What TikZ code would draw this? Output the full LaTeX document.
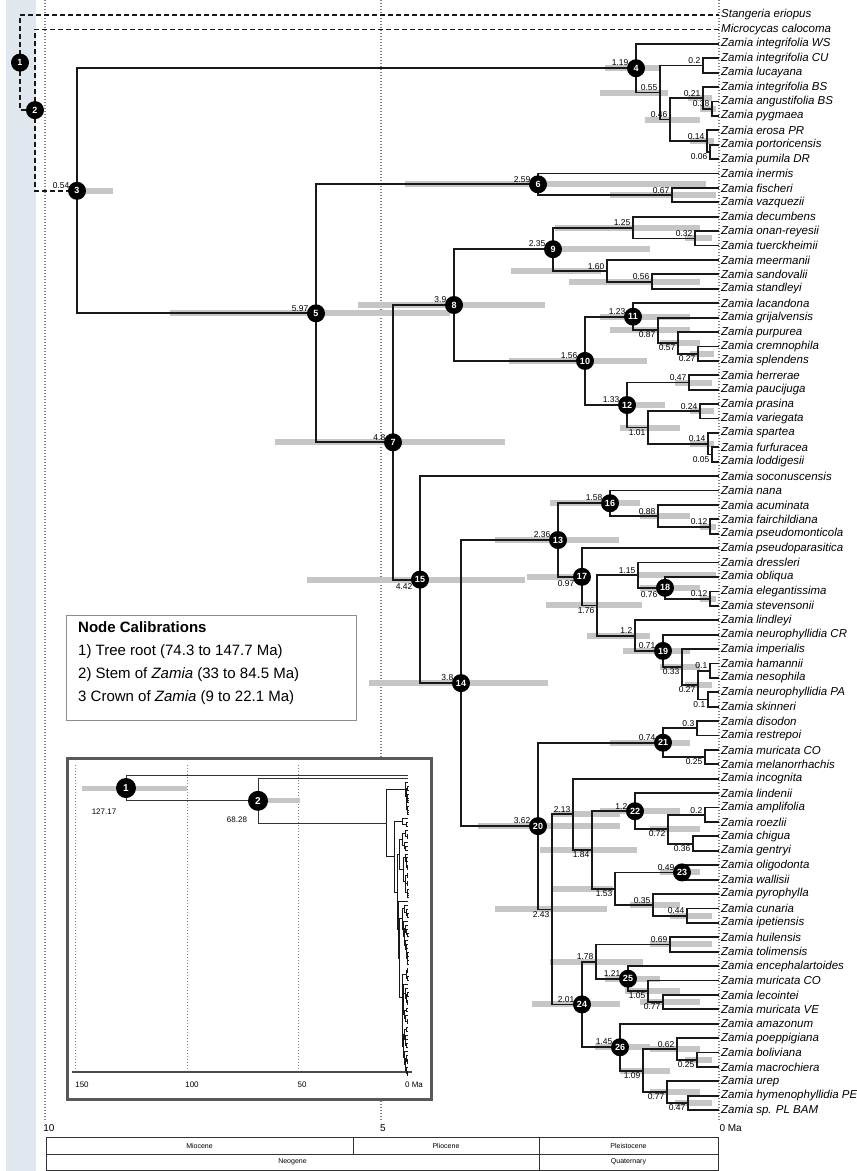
\documentclass[tikz,border=0pt]{standalone}
\usepackage{fontspec}
\setmainfont{Liberation Sans}
\usetikzlibrary{calc}
\definecolor{strip}{RGB}{224,231,238}
\definecolor{hpd}{RGB}{198,198,198}
\definecolor{treec}{RGB}{25,25,25}
\newcommand\ZTree[1]{%
  \foreach \i in {3,...,77}{\coordinate (#1t\i) at (719,{15+(\i-1)*14.41});}
  \foreach \q/\a/\b in {B/703/65.4, Eap/712/108.7, E/703/97.9, G/710/151.9, F/707/141.1, C/670/119.5, A/660/92.5, N4/636/68.2,
    H/672/195.1, N6/538/184.3, K/695/238.4, I/633/227.6, L/652/281.6, J/607/270.8, N9/553/249.2,
    O/698/353.6, Nn/678/342.8, M/658/330.2, N11/633/316.7, P/689/382.5, R/700/411.3, T/712/454.5, S/708/443.7,
    Q/648/427.5, N12/627/405.0, N10/585/360.9, N8/454/305.0,
    V/710/526.6, U/658/515.8, N16/610/503.2, Z/710/598.6, N18/665/587.8, X/638/575.2,
    CC/710/670.7, DD/708/699.5, BB/698/685.1, EE/682/667.1, N19/663/650.9, Y/635/635.6, W/597/605.4, N17/582/576.8, N13/558/540.0,
    II/697/728.3, JJ/705/757.1, N21/663/742.7, OO/705/814.8, PP/693/843.6, NN/668/829.2, N22/635/811.2, N23/682/872.4,
    RR/687/915.6, QQ/653/904.8, MM/615/888.6, LL/592/849.9, KK/573/814.3,
    TT/670/944.4, VV/663/1002.1, UU/648/991.3, N25/628/978.7, SS/596/961.6,
    ZZ/697/1059.7, XX/677/1048.9, AB/688/1103.0, YY/667/1092.2, WW/643/1070.6, N26/620/1047.2, N24/582/1004.4,
    HH/552/909.4, N20/538/826.1, N14/461/683.1, N15/420/579.6, N7/393/442.3, N5/316/313.3, N3/77/190.8}{\coordinate (#1\q) at (\a,\b);}
  \foreach \p/\c in {N4/t3, N4/A, A/B, A/C, B/t4, B/t5, C/E, C/F, E/t6, E/Eap, Eap/t7, Eap/t8, F/t9, F/G, G/t10, G/t11,
    N3/N4, N3/N5, N5/N6, N5/N7, N6/t12, N6/H, H/t13, H/t14,
    N7/N8, N7/N15, N8/N9, N8/N10, N9/I, N9/J, I/t15, I/K, K/t16, K/t17, J/t18, J/L, L/t19, L/t20,
    N10/N11, N10/N12, N11/t21, N11/M, M/t22, M/Nn, Nn/t23, Nn/O, O/t24, O/t25,
    N12/P, N12/Q, P/t26, P/t27, Q/R, Q/S, R/t28, R/t29, S/t30, S/T, T/t31, T/t32,
    N15/t33, N15/N14, N14/N13, N14/N20, N13/N16, N13/N17, N16/t34, N16/U, U/t35, U/V, V/t36, V/t37,
    N17/t38, N17/W, W/X, W/Y, X/t39, X/N18, N18/t40, N18/Z, Z/t41, Z/t42,
    Y/t43, Y/N19, N19/t44, N19/EE, EE/t45, EE/BB, BB/CC, BB/DD, CC/t46, CC/t47, DD/t48, DD/t49,
    N20/N21, N20/HH, N21/II, N21/JJ, II/t50, II/t51, JJ/t52, JJ/t53,
    HH/KK, HH/N24, KK/t54, KK/LL, LL/N22, LL/MM, N22/t55, N22/NN, NN/OO, NN/PP, OO/t56, OO/t57, PP/t58, PP/t59,
    MM/N23, MM/QQ, N23/t60, N23/t61, QQ/t62, QQ/RR, RR/t63, RR/t64,
    N24/SS, N24/N26, SS/TT, SS/N25, TT/t65, TT/t66, N25/t67, N25/UU, UU/t68, UU/VV, VV/t69, VV/t70,
    N26/t71, N26/WW, WW/XX, WW/YY, XX/t72, XX/ZZ, ZZ/t73, ZZ/t74, YY/t75, YY/AB, AB/t76, AB/t77}{\draw[ztree] (#1\p) |- (#1\c);}
}
\begin{document}
\begin{tikzpicture}[x=1pt,y=-1pt,
  rootdash/.style={line width=1.4pt, draw=treec, dash pattern=on 5pt off 3pt},
  hpdbar/.style={line width=6pt, draw=hpd},
  timeline/.style={line width=1.3pt, draw=black!50, dash pattern=on 1.3pt off 1.7pt},
  circ/.style={circle, fill=black, text=white, inner sep=0pt, minimum size=18pt, font=\bfseries\fontsize{9}{9}\selectfont},
  icirc/.style={circle, fill=black, text=white, inner sep=0pt, minimum size=20pt, font=\bfseries\fontsize{10}{10}\selectfont},
  tiplab/.style={anchor=west, inner sep=0pt, font=\itshape\fontsize{11.5}{12}\selectfont, text=black},
  blab/.style={inner sep=0.5pt, font=\fontsize{8.5}{8.5}\selectfont},
  eralab/.style={font=\fontsize{7}{7}\selectfont},
  axlab/.style={font=\fontsize{10}{10}\selectfont}]
\useasboundingbox (0,0) rectangle (857,1171);
\fill[white] (0,0) rectangle (857,1171);
\fill[strip] (6,0) rectangle (36,1171);
% time lines
\draw[timeline] (45,0) -- (45,1122);
\draw[timeline] (381,0) -- (381,1122);
\draw[timeline] (719,0) -- (719,1122);
% main tree coordinates (no drawing yet)
\begin{scope}[ztree/.style={draw=none}]
  \ZTree{m}
\end{scope}
% HPD bars
\foreach \q/\a/\b in {N3/77/113, N4/605/660, A/600/668, C/645/700, E/688/712, Eap/700/716, F/690/714,
  N6/405/706, H/610/716, N5/170/450, N7/275/505, N8/358/545, N9/550/650, I/555/700, K/685/712, J/511/601, L/569/700,
  N10/509/647, N11/600/690, M/610/690, Nn/660/700, O/690/714, N12/620/665, P/675/712, Q/620/680, R/690/714, S/690/714,
  N13/495/619, N14/369/548, N15/307/525, N16/550/640, U/640/690, V/700/716, N17/527/578, W/546/642, X/638/716,
  N18/640/700, Z/700/716, Y/587/650, N19/623/690, EE/660/700, BB/685/712, N20/478/620, N21/610/690, KK/553/620,
  LL/540/637, N22/600/680, NN/650/700, MM/553/613, N23/660/700, QQ/630/680, RR/670/712, HH/495/607, N24/532/620,
  SS/550/643, TT/650/712, N25/605/660, UU/625/680, VV/640/700, N26/595/650, WW/620/670, XX/650/700, ZZ/685/712,
  YY/650/700, AB/675/712}{\draw[hpdbar] let \p1=(m\q) in (\a pt,\y1) -- (\b pt,\y1);}
\begin{scope}[ztree/.style={line width=1.8pt, draw=treec}]
  \ZTree{m}
\end{scope}
% root (dashed)
\coordinate (mt1) at (719,15);
\coordinate (mt2) at (719,29.41);
\coordinate (mN1) at (20,62.6);
\coordinate (mN2) at (35,110.1);
\draw[rootdash] (mN1) |- (mt1);
\draw[rootdash] (mN1) |- (mN2);
\draw[rootdash] (mN2) |- (mt2);
\draw[rootdash] (mN2) |- (mN3);
% circles
\foreach \i in {1,...,26}{\node[circ] (cN\i) at (mN\i) {\i};}
% branch labels
\foreach \q/\v in {N3/0.54, N4/1.19, N5/5.97, N6/2.59, N7/4.8, N8/3.9, N9/2.35, N10/1.56, N11/1.23, N12/1.33, N13/2.36,
  N14/3.8, N16/1.58, N19/0.71, N20/3.62, N21/0.74, N22/1.2, N23/0.49, N24/2.01, N25/1.21, N26/1.45}
  {\node[blab, anchor=south east] (bl\q) at ([xshift=-7pt,yshift=1.5pt]m\q) {\v};}
\foreach \q/\v in {N15/4.42, N17/0.97, N18/0.76}
  {\node[blab, anchor=north east] (bl\q) at ([xshift=-7pt,yshift=-3pt]m\q) {\v};}
\foreach \q/\v in {B/0.2, A/0.55, C/0.46, E/0.21, Eap/0.38, F/0.14, H/0.67, I/1.25, K/0.32, J/1.60, L/0.56, P/0.47,
  R/0.24, S/0.14, U/0.88, V/0.12, X/1.15, Z/0.12, Y/1.2, CC/0.1, II/0.3, KK/2.13, OO/0.2, QQ/0.35, RR/0.44, SS/1.78,
  TT/0.69, XX/0.62}
  {\node[blab, anchor=south east] (bl\q) at ([xshift=-2pt,yshift=1pt]m\q) {\v};}
\foreach \q/\v in {G/0.06, M/0.87, Nn/0.57, O/0.27, Q/1.01, T/0.05, W/1.76, EE/0.33, BB/0.27, DD/0.1, JJ/0.25,
  HH/2.43, LL/1.84, NN/0.72, PP/0.36, MM/1.53, UU/1.05, VV/0.77, ZZ/0.25, YY/0.77, AB/0.47, WW/1.09}
  {\node[blab, anchor=north east] (bl\q) at ([xshift=-2pt,yshift=-1pt]m\q) {\v};}
% tip labels
\foreach \i/\nm in {1/Stangeria eriopus, 2/Microcycas calocoma, 3/Zamia integrifolia WS, 4/Zamia integrifolia CU,
  5/Zamia lucayana, 6/Zamia integrifolia BS, 7/Zamia angustifolia BS, 8/Zamia pygmaea, 9/Zamia erosa PR,
  10/Zamia portoricensis, 11/Zamia pumila DR, 12/Zamia inermis, 13/Zamia fischeri, 14/Zamia vazquezii,
  15/Zamia decumbens, 16/Zamia onan-reyesii, 17/Zamia tuerckheimii, 18/Zamia meermanii, 19/Zamia sandovalii,
  20/Zamia standleyi, 21/Zamia lacandona, 22/Zamia grijalvensis, 23/Zamia purpurea, 24/Zamia cremnophila,
  25/Zamia splendens, 26/Zamia herrerae, 27/Zamia paucijuga, 28/Zamia prasina, 29/Zamia variegata,
  30/Zamia spartea, 31/Zamia furfuracea, 32/Zamia loddigesii, 33/Zamia soconuscensis, 34/Zamia nana,
  35/Zamia acuminata, 36/Zamia fairchildiana, 37/Zamia pseudomonticola, 38/Zamia pseudoparasitica,
  39/Zamia dressleri, 40/Zamia obliqua, 41/Zamia elegantissima, 42/Zamia stevensonii, 43/Zamia lindleyi,
  44/Zamia neurophyllidia CR, 45/Zamia imperialis, 46/Zamia hamannii, 47/Zamia nesophila,
  48/Zamia neurophyllidia PA, 49/Zamia skinneri, 50/Zamia disodon, 51/Zamia restrepoi, 52/Zamia muricata CO,
  53/Zamia melanorrhachis, 54/Zamia incognita, 55/Zamia lindenii, 56/Zamia amplifolia, 57/Zamia roezlii,
  58/Zamia chigua, 59/Zamia gentryi, 60/Zamia oligodonta, 61/Zamia wallisii, 62/Zamia pyrophylla,
  63/Zamia cunaria, 64/Zamia ipetiensis, 65/Zamia huilensis, 66/Zamia tolimensis, 67/Zamia encephalartoides,
  68/Zamia muricata CO, 69/Zamia lecointei, 70/Zamia muricata VE, 71/Zamia amazonum, 72/Zamia poeppigiana,
  73/Zamia boliviana, 74/Zamia macrochiera, 75/Zamia urep, 76/Zamia hymenophyllidia PE, 77/Zamia sp. PL BAM}
  {\node[tiplab] (tip\i) at ([xshift=2pt]mt\i) {\nm};}
% legend
\node[draw=black!45, line width=1.2pt, fill=white, minimum width=290pt, minimum height=105pt, anchor=north west, inner sep=0pt] (legend) at (66,615) {};
\node[anchor=north west, align=left, inner sep=0pt, font=\fontsize{15}{23}\selectfont] (legtext) at (78,621)
  {\textbf{Node Calibrations}\\1) Tree root (74.3 to 147.7 Ma)\\2) Stem of \textit{Zamia} (33 to 84.5 Ma)\\3 Crown of \textit{Zamia} (9 to 22.1 Ma)};
% inset
\node[draw=black!65, line width=3pt, fill=white, minimum width=364pt, minimum height=341pt, anchor=north west, inner sep=0pt] (inset) at (66,757) {};
\draw[timeline, line width=1pt] (75,765) -- (75,1072);
\draw[timeline, line width=1pt] (187,765) -- (187,1072);
\draw[timeline, line width=1pt] (298,765) -- (298,1072);
\draw[line width=1.2pt, black!70] (72,1072) -- (412,1072);
\node[font=\fontsize{8}{8}\selectfont] (ax150) at (82,1085) {150};
\node[font=\fontsize{8}{8}\selectfont] (ax100) at (192,1085) {100};
\node[font=\fontsize{8}{8}\selectfont] (ax50) at (302,1085) {50};
\node[font=\fontsize{8}{8}\selectfont] (ax0) at (414,1085) {0 Ma};
\coordinate (iN1) at (126,788);
\coordinate (iN2) at (258,800.8);
\coordinate (it1) at (408,775);
\coordinate (it2) at (408,778.9);
\draw[hpdbar, line width=5pt] (82,788) -- (187,788);
\draw[hpdbar, line width=5pt] (262,800.8) -- (300,800.8);
\begin{scope}[shift={(384.3,770.9)}, xscale=0.033, yscale=0.274, ztree/.style={line width=0.9pt, draw=black!90}]
  \ZTree{i}
\end{scope}
\draw[line width=0.9pt, black!80] (iN1) |- (it1);
\draw[line width=0.9pt, black!80] (iN1) |- (iN2);
\draw[line width=0.9pt, black!80] (iN2) |- (it2);
\draw[line width=0.9pt, black!80] (iN2) |- (iN3);
\node[icirc] (ic1) at (iN1) {1};
\node[icirc] (ic2) at (iN2) {2};
\node[blab, font=\fontsize{8}{8}\selectfont] (il1) at (104,812) {127.17};
\node[blab, font=\fontsize{8}{8}\selectfont] (il2) at (237,820) {68.28};
% time axis labels
\node[axlab] (t10) at (49,1128) {10};
\node[axlab] (t5) at (383,1128) {5};
\node[axlab, anchor=west] (t0) at (716,1128) {0 Ma};
% geological table
\draw[line width=1pt, black!80] (46,1137) rectangle (718,1170);
\draw[line width=1pt, black!80] (46,1154) -- (718,1154);
\draw[line width=1pt, black!80] (353,1137) -- (353,1154);
\draw[line width=1pt, black!80] (539,1137) -- (539,1170);
\node[eralab] (mio) at (199.5,1145.5) {Miocene};
\node[eralab] (plio) at (446,1145.5) {Pliocene};
\node[eralab] (pleis) at (628.5,1145.5) {Pleistocene};
\node[eralab] (neo) at (292.5,1162) {Neogene};
\node[eralab] (quat) at (628.5,1162) {Quaternary};
\end{tikzpicture}
\end{document}
